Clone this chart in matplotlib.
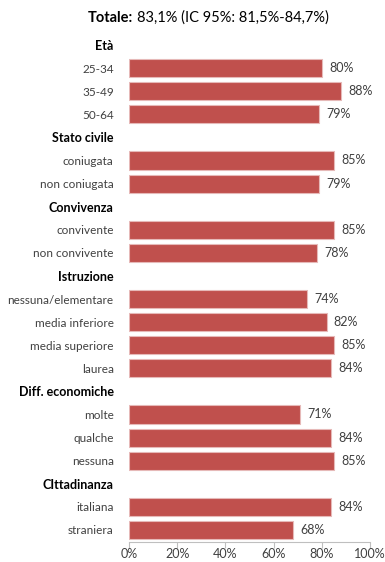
import matplotlib.pyplot as plt
import numpy as np

# gruppi e categorie (le intestazioni dei gruppi sono righe vuote in grassetto)
groups = ["Età", "Stato civile", "Convivenza", "Istruzione", "Diff. economiche", "CIttadinanza"]
cat_eta = ["25-34", "35-49", "50-64"]
val_eta = [80, 88, 79]
cat_stato = ["coniugata", "non coniugata"]
val_stato = [85, 79]
cat_conv = ["convivente", "non convivente"]
val_conv = [85, 78]
cat_istr = ["nessuna/elementare", "media inferiore", "media superiore", "laurea"]
val_istr = [74, 82, 85, 84]
cat_diff = ["molte", "qualche", "nessuna"]
val_diff = [71, 84, 85]
cat_citt = ["italiana", "straniera"]
val_citt = [84, 68]

xticks = [0, 20, 40, 60, 80, 100]
title_bold = "Totale:"
title_rest = "83,1% (IC 95%: 81,5%-84,7%)"

plt.rcParams['font.family'] = ['Lato', 'DejaVu Sans']

cats = [cat_eta, cat_stato, cat_conv, cat_istr, cat_diff, cat_citt]
vals = [val_eta, val_stato, val_conv, val_istr, val_diff, val_citt]

# costruzione delle righe
labels, values, is_header = [], [], []
for g, c, v in zip(groups, cats, vals):
    labels.append(g)
    values.append(np.nan)
    is_header.append(True)
    labels += c
    values += v
    is_header += [False] * len(c)

y = np.arange(len(labels))

fig = plt.figure(figsize=(3.85, 5.62), dpi=100)
ax = fig.add_axes([129/385, 1 - 541.5/562, 241/385, (541.5 - 33.5)/562])

red = "#C0504D"
mask = ~np.isnan(values)
vv = np.array(values)
ax.barh(y[mask], vv[mask], height=0.78, color=red, edgecolor="#E6B9B8", linewidth=0.8)
for yi, v in zip(y[mask], vv[mask]):
    ax.text(v + 3, yi, f"{int(v)}%", va="center", ha="left", fontsize=9, color="#404040")

ax.set_xlim(0, 100)
ax.set_ylim(len(labels) - 0.5, -0.5)
ax.set_yticks(y)
ax.set_yticklabels(labels)
for t, h in zip(ax.get_yticklabels(), is_header):
    if h:
        t.set_fontweight("bold")
        t.set_color("black")
        t.set_fontsize(9)
    else:
        t.set_color("#404040")
        t.set_fontsize(8.5)
ax.tick_params(axis="y", length=0, pad=11)
ax.set_xticks(xticks)
ax.set_xticklabels([f"{t}%" for t in xticks])
ax.tick_params(axis="x", length=4, color="#BFBFBF", labelsize=9, labelcolor="#404040", pad=1)

for s in ["top", "right", "left"]:
    ax.spines[s].set_visible(False)
ax.spines["bottom"].set_color("#BFBFBF")

fig.text(133/385, 1 - 18/562, title_bold, ha="right", va="center", fontsize=10.5, fontweight="bold")
fig.text(137/385, 1 - 18/562, title_rest, ha="left", va="center", fontsize=10.5)

fig.savefig("out.png", dpi=100)
